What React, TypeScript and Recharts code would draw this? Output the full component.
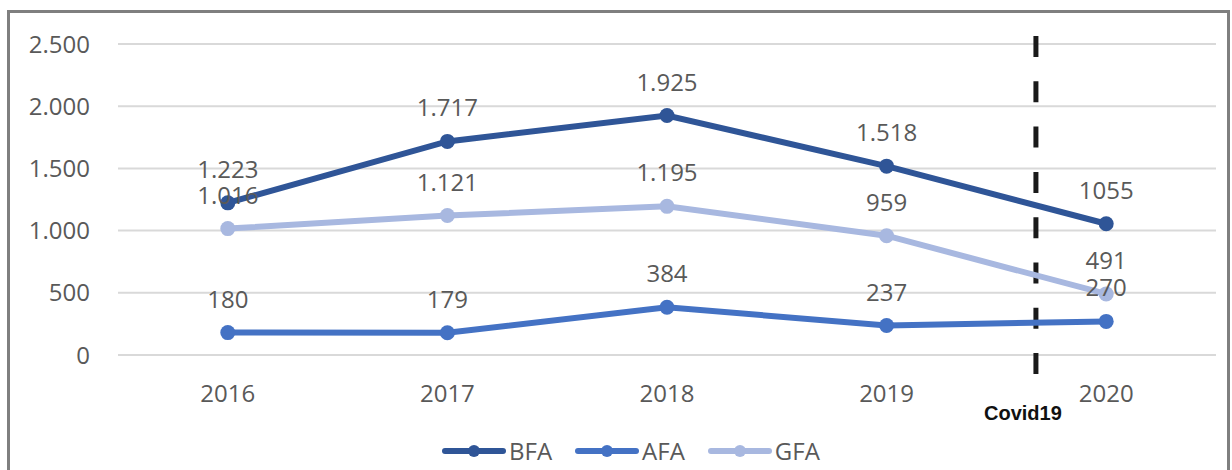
import React from 'react';
import { LineChart, Line, XAxis, YAxis, CartesianGrid, LabelList, ReferenceLine, Legend } from 'recharts';

const years = ['2016', '2017', '2018', '2019', '2020'];
const bfaValues = [1223, 1717, 1925, 1518, 1055];
const afaValues = [180, 179, 384, 237, 270];
const gfaValues = [1016, 1121, 1195, 959, 491];
const bfaLabels = ['1.223', '1.717', '1.925', '1.518', '1055'];
const afaLabels = ['180', '179', '384', '237', '270'];
const gfaLabels = ['1.016', '1.121', '1.195', '959', '491'];
const yTicks = [0, 500, 1000, 1500, 2000, 2500];
const covidLabel = 'Covid19';
// position of the Covid19 marker on a hidden index axis (category i sits at i + 0.5)
const covidIndexPosition = 4.18;

const series = [
  { key: 'BFA', labelKey: 'BFALabel', color: '#2F5597' },
  { key: 'AFA', labelKey: 'AFALabel', color: '#4472C4' },
  { key: 'GFA', labelKey: 'GFALabel', color: '#A8B8E0' },
];

const data = years.map((year, i) => ({
  year,
  pos: i + 0.5,
  BFA: bfaValues[i],
  AFA: afaValues[i],
  GFA: gfaValues[i],
  BFALabel: bfaLabels[i],
  AFALabel: afaLabels[i],
  GFALabel: gfaLabels[i],
}));

const FONT = "'Open Sans', sans-serif";
const TEXT = '#595959';

const formatY = (v: number) => String(v).replace(/\B(?=(\d{3})+(?!\d))/g, '.');

const CovidLine = (props: any) => {
  const { x1, y1, y2 } = props;
  const top = Math.min(y1, y2);
  const bottom = Math.max(y1, y2);
  return (
    <g>
      <line x1={x1} x2={x1} y1={top - 8} y2={bottom + 20} stroke="#1A1A1A" strokeWidth={5} strokeDasharray="21 24.3" />
      <text x={x1 - 13} y={bottom + 65} textAnchor="middle" fontFamily="'Liberation Sans', Arial, sans-serif" fontWeight="bold" fontSize={20} fill="#111111">
        {covidLabel}
      </text>
    </g>
  );
};

const LegendContent = () => (
  <div style={{ display: 'flex', alignItems: 'center', fontFamily: FONT, fontSize: 24, color: TEXT }}>
    {series.map((s, i) => (
      <div key={s.key} style={{ display: 'flex', alignItems: 'center', marginRight: i < series.length - 1 ? 23 : 0 }}>
        <svg width={64} height={20} style={{ display: 'block' }}>
          <line x1={3} x2={61} y1={10} y2={10} stroke={s.color} strokeWidth={6} strokeLinecap="round" />
          <circle cx={32} cy={10} r={6} fill={s.color} />
        </svg>
        <span style={{ marginLeft: 3, lineHeight: '28px' }}>{s.key}</span>
      </div>
    ))}
  </div>
);

export default function App() {
  return (
    <div style={{ position: 'absolute', left: 0, top: 0, width: 1232, height: 470, background: '#ffffff', overflow: 'hidden' }}>
      <div style={{ position: 'absolute', left: 7, top: 10, width: 1223, height: 480, border: '3px solid #7F7F7F', boxSizing: 'border-box' }} />
      <div style={{ position: 'absolute', left: 0, top: 0 }}>
        <LineChart width={1232} height={470} data={data} margin={{ top: 44, right: 16, left: 0, bottom: 85 }}>
          <CartesianGrid vertical={false} stroke="#D9D9D9" strokeWidth={2} />
          <XAxis
            dataKey="year"
            scale="band"
            axisLine={false}
            tickLine={false}
            tickMargin={24}
            tick={{ fill: TEXT, fontSize: 24, fontFamily: FONT }}
          />
          <XAxis xAxisId="idx" dataKey="pos" type="number" domain={[0, 5]} hide allowDataOverflow />
          <YAxis
            width={118}
            domain={[0, 2500]}
            ticks={yTicks}
            axisLine={false}
            tickLine={false}
            tickMargin={22}
            tickFormatter={formatY}
            tick={{ fill: TEXT, fontSize: 24, fontFamily: FONT }}
          />
          <ReferenceLine xAxisId="idx" x={covidIndexPosition} shape={CovidLine} ifOverflow="visible" />
          {series.map((s) => (
            <Line
              key={s.key}
              dataKey={s.key}
              stroke={s.color}
              strokeWidth={6}
              dot={{ r: 7.5, fill: s.color, stroke: s.color, strokeWidth: 0 }}
              activeDot={false}
              isAnimationActive={false}
            >
              <LabelList dataKey={s.labelKey} position="top" offset={25} fill={TEXT} fontSize={24} fontFamily={FONT} />
            </Line>
          ))}
          <Legend
            layout="horizontal"
            verticalAlign="middle"
            align="center"
            content={<LegendContent />}
            wrapperStyle={{ position: 'absolute', left: 442, top: 437, width: 'auto' }}
          />
        </LineChart>
      </div>
    </div>
  );
}
